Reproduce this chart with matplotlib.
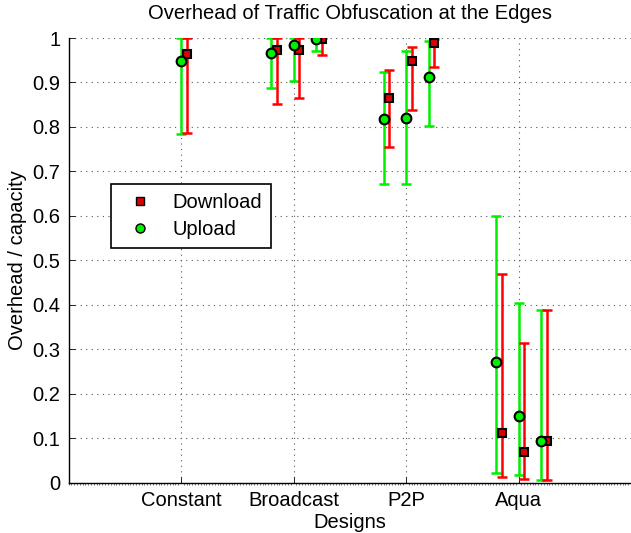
import numpy as np
import matplotlib
matplotlib.use("Agg")
import matplotlib.pyplot as plt
from matplotlib.lines import Line2D
from matplotlib.ticker import MultipleLocator

plt.rcParams["font.family"] = ["Liberation Sans", "DejaVu Sans"]

# ── Data ──────────────────────────────────────────────────────────────────────
designs   = ["Constant", "Broadcast", "P2P", "Aqua"]
positions = [1.0, 1.8, 2.0, 2.2, 2.8, 3.0, 3.2, 3.8, 4.0, 4.2]

upload_mean = [0.949, 0.967, 0.985, 0.998, 0.818, 0.821, 0.912, 0.272, 0.149, 0.094]
upload_low  = [0.785, 0.887, 0.904, 0.970, 0.671, 0.671, 0.803, 0.021, 0.016, 0.006]
upload_high = [1.000, 1.000, 1.000, 1.000, 0.923, 0.970, 0.994, 0.600, 0.403, 0.388]

download_mean = [0.963, 0.974, 0.974, 0.997, 0.864, 0.949, 0.988, 0.112, 0.069, 0.094]
download_low  = [0.786, 0.852, 0.864, 0.962, 0.755, 0.837, 0.934, 0.012, 0.008, 0.006]
download_high = [1.000, 1.000, 1.000, 1.000, 0.927, 0.979, 0.998, 0.469, 0.313, 0.388]

OFFSET = 0.05

# ── Plot ──────────────────────────────────────────────────────────────────────
fig = plt.figure(figsize=(6.31, 5.33), dpi=100)
ax = fig.add_axes([0.1086, 0.0947, 0.8914, 0.834])

x = np.array(positions)
up = np.array(upload_mean)
dn = np.array(download_mean)
up_err = [up - np.array(upload_low), np.array(upload_high) - up]
dn_err = [dn - np.array(download_low), np.array(download_high) - dn]

ax.errorbar(x, up, yerr=up_err, fmt="none", ecolor="#00ee00", elinewidth=1.8,
            capsize=3.8, capthick=1.8, zorder=2)
ax.errorbar(x + OFFSET, dn, yerr=dn_err, fmt="none", ecolor="#ff0000", elinewidth=1.8,
            capsize=3.8, capthick=1.8, zorder=2)
ax.plot(x + OFFSET, dn, ls="none", marker="s", ms=6, mfc="#dd0000", mec="black",
        mew=1.5, zorder=3)
ax.plot(x, up, ls="none", marker="o", ms=7, mfc="#00ee00", mec="black",
        mew=1.5, zorder=4)

ax.set_xlim(0, 5)
ax.set_ylim(0, 1)
ax.set_xticks(range(1, len(designs) + 1))
ax.set_xticklabels(designs)
ax.set_yticks(np.arange(0, 1.01, 0.1))
ax.set_yticklabels(["0"] + [f"{v:.1f}" for v in np.arange(0.1, 0.95, 0.1)] + ["1"])
ax.xaxis.set_minor_locator(MultipleLocator(0.025))
ax.tick_params(axis="x", which="minor", direction="out", length=1.5, width=0.5,
               color="#444444")
ax.tick_params(axis="both", which="major", direction="in", length=4, width=0.6,
               labelsize=14.5, pad=6)
ax.grid(True, which="major", ls=(0, (1, 4)), color="#555555", lw=0.8)
ax.set_axisbelow(True)

for side in ("top", "right"):
    ax.spines[side].set_visible(False)
for side in ("left", "bottom"):
    ax.spines[side].set_linewidth(1.0)

ax.set_title("Overhead of Traffic Obfuscation at the Edges", fontsize=14.5, pad=14)
ax.set_xlabel("Designs", fontsize=14.5, labelpad=2)
ax.set_ylabel("Overhead / capacity", fontsize=14.5, labelpad=4)

handles = [
    Line2D([], [], ls="none", marker="s", ms=5.5, mfc="#dd0000", mec="black", mew=1.0),
    Line2D([], [], ls="none", marker="o", ms=6.5, mfc="#00ee00", mec="black", mew=1.0),
]
leg = ax.legend(handles, ["Download", "Upload"], loc="upper left",
                bbox_to_anchor=(0.075, 0.671), borderaxespad=0, fontsize=14.5,
                frameon=True, fancybox=False, edgecolor="black", framealpha=1,
                handletextpad=0.6, borderpad=0.45, labelspacing=0.4, handlelength=2)
leg.get_frame().set_linewidth(1.2)

plt.savefig("out.png", dpi=100)
